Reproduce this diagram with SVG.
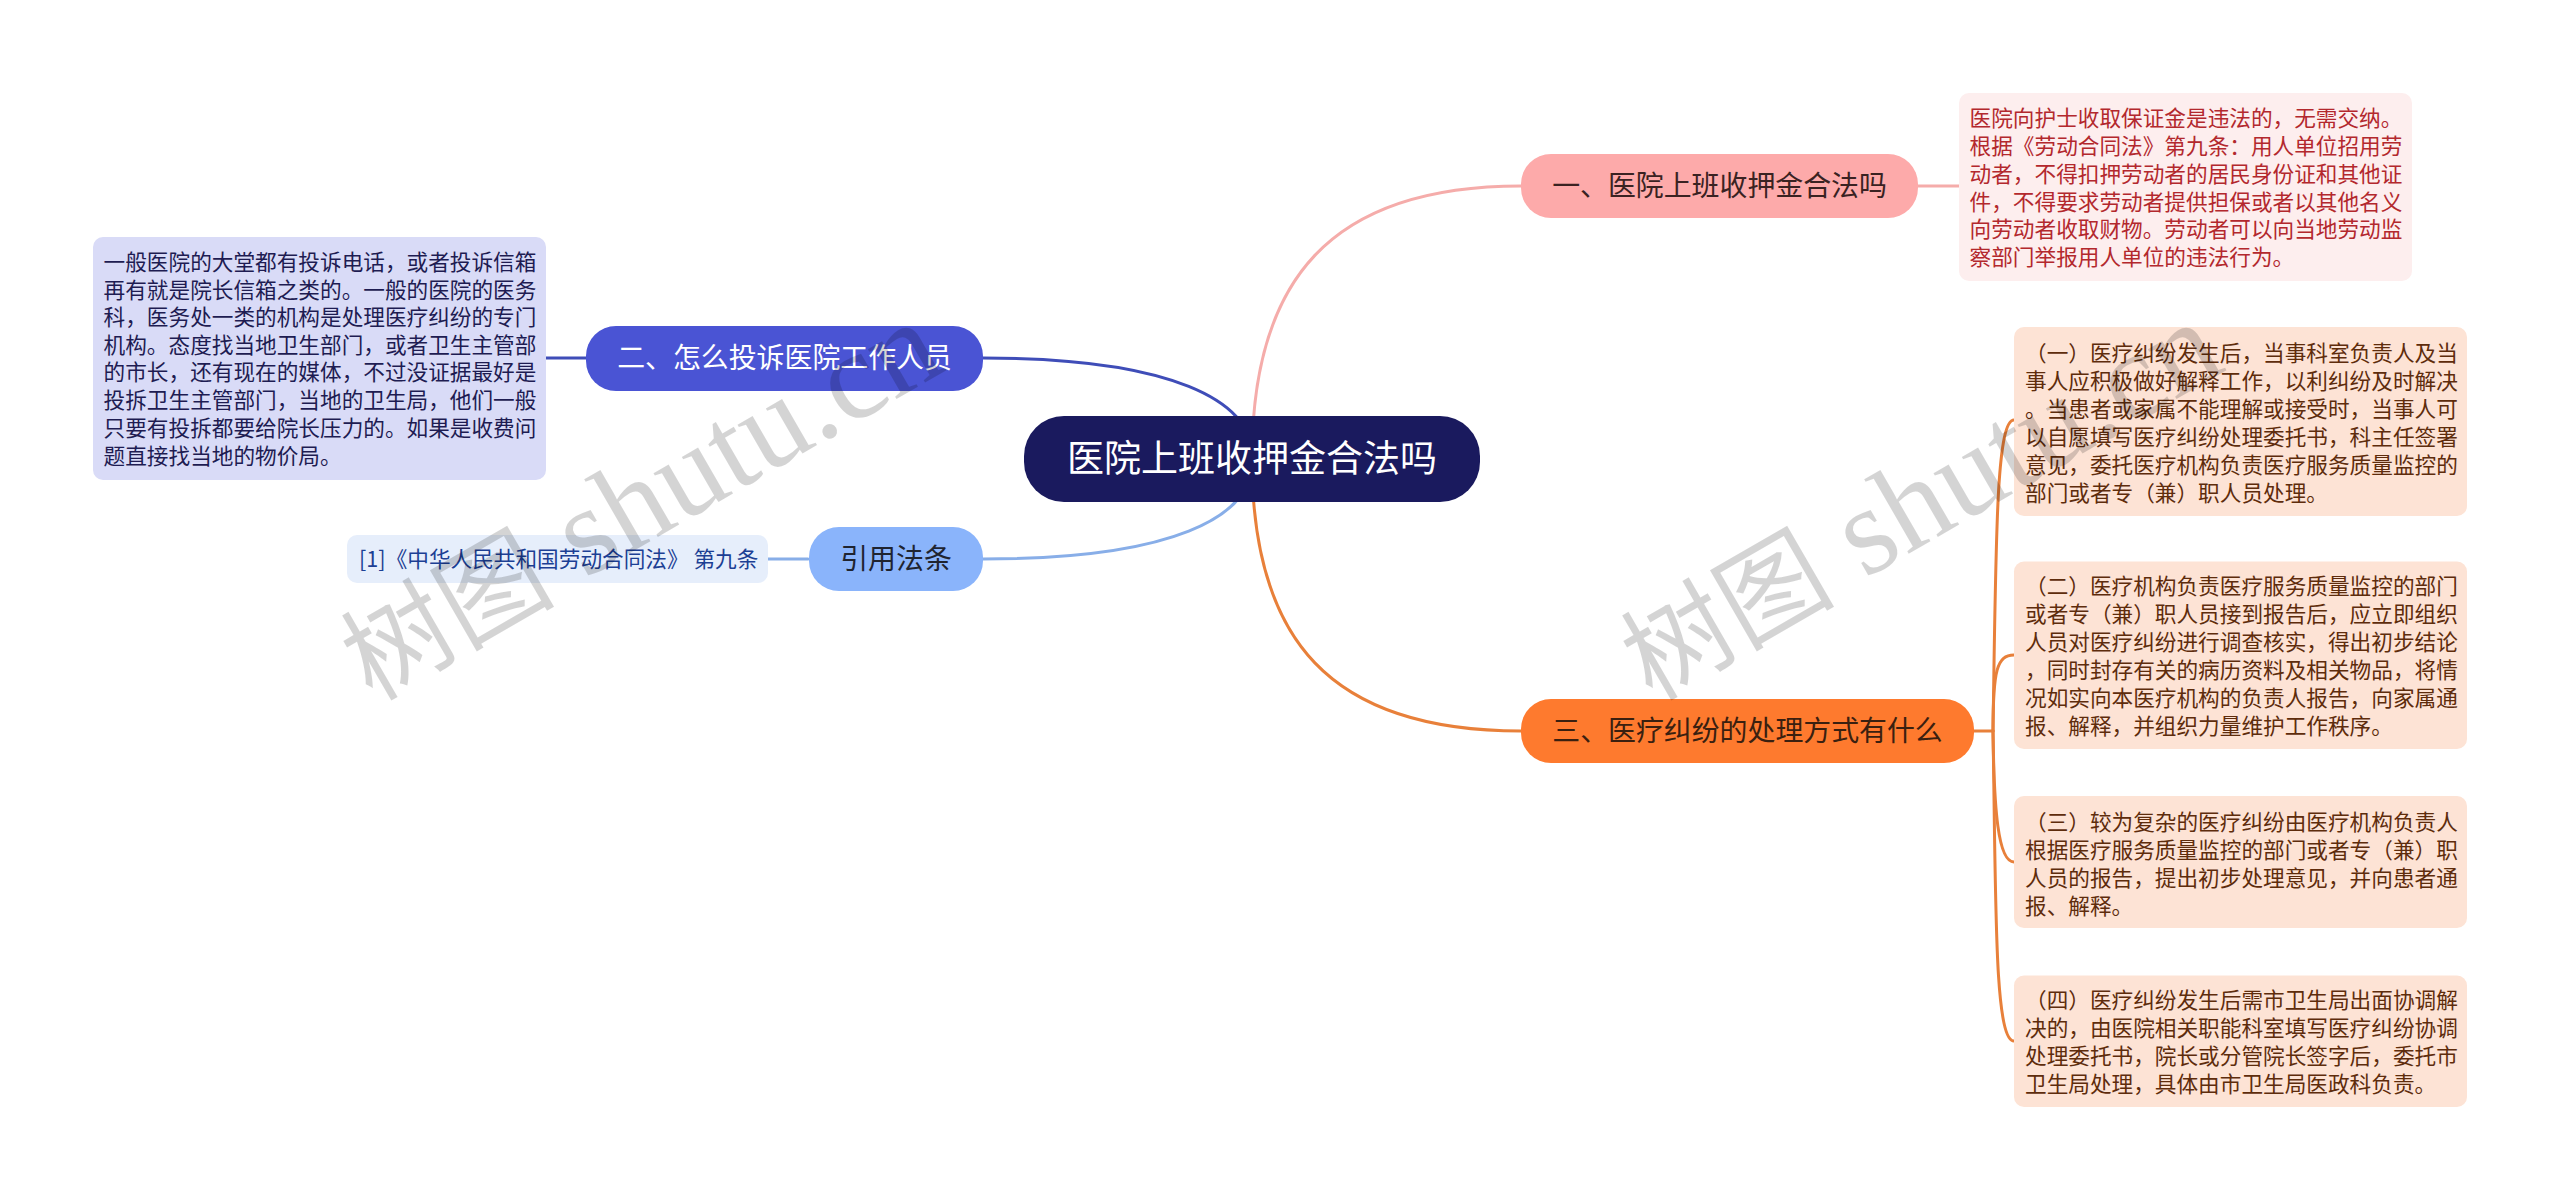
<svg xmlns="http://www.w3.org/2000/svg" width="2560" height="1200" viewBox="0 0 2560 1200">
<style>
text{font-family:"Noto Sans CJK SC","Noto Sans",sans-serif}
.leaf{font-size:21.65px}
.mid{font-size:27.9px;text-anchor:middle}
.conn{fill:none;stroke-width:3;stroke-linecap:round}
.red{fill:#b3282d}.brn{fill:#5e2c0c}.ind{fill:#1e1c52}.cit{fill:#1c3f94}
.wm{font-family:"Liberation Serif","Noto Sans CJK SC",serif;font-size:125px;fill:#000;fill-opacity:.17}
.cjk{font-family:"Noto Sans CJK SC",sans-serif;font-size:107px}
</style>
<rect width="2560" height="1200" fill="#ffffff"/>
<g id="connectors">
<path class="conn" stroke="#f5acaa" d="M1252 459C1252 280 1330 186 1521 186"/>
<path class="conn" stroke="#e8803a" d="M1252 459C1252 640 1330 731 1521 731"/>
<path class="conn" stroke="#3f4db8" d="M1252 459C1255 400 1170 358 983 358"/>
<path class="conn" stroke="#88aee8" d="M1252 459C1255 518 1170 559 983 559"/>
<path class="conn" stroke="#f5acaa" d="M1918 186H1959"/>
<path class="conn" stroke="#3f4db8" d="M546 358H586"/>
<path class="conn" stroke="#88aee8" d="M768 559H808"/>
<path class="conn" stroke="#e8803a" d="M1974 731H1993"/>
<path class="conn" stroke="#e8803a" d="M1993 731C1996 540 1996 420 2014 420"/>
<path class="conn" stroke="#e8803a" d="M1993 731C1993 670 1997 655 2014 655"/>
<path class="conn" stroke="#e8803a" d="M1993 731C1994 810 1998 862 2014 862"/>
<path class="conn" stroke="#e8803a" d="M1993 731C1996 900 1994 1041 2014 1041"/>
</g>
<g id="root">
<rect x="1024" y="416" width="456" height="86" rx="40" fill="#1a1a5e"/>
<text x="1252" y="472" font-size="37" text-anchor="middle" fill="#ffffff">医院上班收押金合法吗</text>
</g>
<g id="node-1">
<rect x="1521" y="154" width="397" height="64" rx="30" fill="#fdaaaa"/>
<text class="mid" x="1719.5" y="196" fill="#3a2222">一、医院上班收押金合法吗</text>
</g>
<g id="node-2">
<rect x="586" y="326" width="397" height="65" rx="30" fill="#4a54d4"/>
<text class="mid" x="784.5" y="368" fill="#ffffff">二、怎么投诉医院工作人员</text>
</g>
<g id="node-3">
<rect x="809" y="527" width="174" height="64" rx="30" fill="#8ab4fb"/>
<text class="mid" x="896" y="569" fill="#1f2430">引用法条</text>
</g>
<g id="node-4">
<rect x="1521" y="699" width="453" height="64" rx="30" fill="#fe7a2e"/>
<text class="mid" x="1747.5" y="741" fill="#3a2010">三、医疗纠纷的处理方式有什么</text>
</g>
<g id="leaf-1">
<rect x="1959" y="93" width="453" height="188" rx="10" fill="#fdeeee"/>
<text class="leaf red" x="1969.6" y="126">医院向护士收取保证金是违法的，无需交纳。</text>
<text class="leaf red" x="1969.6" y="154">根据《劳动合同法》第九条：用人单位招用劳</text>
<text class="leaf red" x="1969.6" y="182">动者，不得扣押劳动者的居民身份证和其他证</text>
<text class="leaf red" x="1969.6" y="209.5">件，不得要求劳动者提供担保或者以其他名义</text>
<text class="leaf red" x="1969.6" y="237">向劳动者收取财物。劳动者可以向当地劳动监</text>
<text class="leaf red" x="1969.6" y="265">察部门举报用人单位的违法行为。</text>
</g>
<g id="leaf-2">
<rect x="93" y="237" width="453" height="243" rx="10" fill="#d9dbf7"/>
<text class="leaf ind" x="103.6" y="269.5">一般医院的大堂都有投诉电话，或者投诉信箱</text>
<text class="leaf ind" x="103.6" y="297.5">再有就是院长信箱之类的。一般的医院的医务</text>
<text class="leaf ind" x="103.6" y="325">科，医务处一类的机构是处理医疗纠纷的专门</text>
<text class="leaf ind" x="103.6" y="352.500">机构。态度找当地卫生部门，或者卫生主管部</text>
<text class="leaf ind" x="103.6" y="380">的市长，还有现在的媒体，不过没证据最好是</text>
<text class="leaf ind" x="103.6" y="408">投拆卫生主管部门，当地的卫生局，他们一般</text>
<text class="leaf ind" x="103.6" y="436">只要有投拆都要给院长压力的。如果是收费问</text>
<text class="leaf ind" x="103.6" y="463.500">题直接找当地的物价局。</text>
</g>
<g id="leaf-3">
<rect x="347" y="535" width="421" height="48" rx="10" fill="#e6eefb"/>
<text class="leaf cit" x="359" y="566.5">[1]《中华人民共和国劳动合同法》 第九条</text>
</g>
<g id="leaf-4">
<rect x="2014" y="327" width="453" height="189" rx="10" fill="#fde3d5"/>
<text class="leaf brn" x="2025" y="361">（一）医疗纠纷发生后，当事科室负责人及当</text>
<text class="leaf brn" x="2025" y="389">事人应积极做好解释工作，以利纠纷及时解决</text>
<text class="leaf brn" x="2025" y="417">。当患者或家属不能理解或接受时，当事人可</text>
<text class="leaf brn" x="2025" y="445">以自愿填写医疗纠纷处理委托书，科主任签署</text>
<text class="leaf brn" x="2025" y="473">意见，委托医疗机构负责医疗服务质量监控的</text>
<text class="leaf brn" x="2025" y="501">部门或者专（兼）职人员处理。</text>
</g>
<g id="leaf-5">
<rect x="2014" y="561.500" width="453" height="187.500" rx="10" fill="#fde3d5"/>
<text class="leaf brn" x="2025" y="594">（二）医疗机构负责医疗服务质量监控的部门</text>
<text class="leaf brn" x="2025" y="622">或者专（兼）职人员接到报告后，应立即组织</text>
<text class="leaf brn" x="2025" y="650">人员对医疗纠纷进行调查核实，得出初步结论</text>
<text class="leaf brn" x="2025" y="678">，同时封存有关的病历资料及相关物品，将情</text>
<text class="leaf brn" x="2025" y="706">况如实向本医疗机构的负责人报告，向家属通</text>
<text class="leaf brn" x="2025" y="734">报、解释，并组织力量维护工作秩序。</text>
</g>
<g id="leaf-6">
<rect x="2014" y="796" width="453" height="132" rx="10" fill="#fde3d5"/>
<text class="leaf brn" x="2025" y="829.5">（三）较为复杂的医疗纠纷由医疗机构负责人</text>
<text class="leaf brn" x="2025" y="857.5">根据医疗服务质量监控的部门或者专（兼）职</text>
<text class="leaf brn" x="2025" y="885.5">人员的报告，提出初步处理意见，并向患者通</text>
<text class="leaf brn" x="2025" y="913.5">报、解释。</text>
</g>
<g id="leaf-7">
<rect x="2014" y="975.500" width="453" height="131.500" rx="10" fill="#fde3d5"/>
<text class="leaf brn" x="2025" y="1008">（四）医疗纠纷发生后需市卫生局出面协调解</text>
<text class="leaf brn" x="2025" y="1036">决的，由医院相关职能科室填写医疗纠纷协调</text>
<text class="leaf brn" x="2025" y="1064">处理委托书，院长或分管院长签字后，委托市</text>
<text class="leaf brn" x="2025" y="1092">卫生局处理，具体由市卫生局医政科负责。</text>
</g>
<g id="watermark">
<text class="wm" transform="translate(372 702) rotate(-30)"><tspan class="cjk">树图</tspan> shutu.cn</text>
<text class="wm" transform="translate(1652 702) rotate(-30)"><tspan class="cjk">树图</tspan> shutu.cn</text>
</g>
</svg>
